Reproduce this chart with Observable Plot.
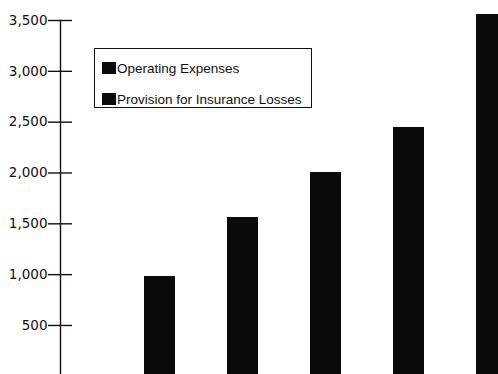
<!DOCTYPE html>
<html>
<head>
<meta charset="utf-8">
<script src="https://cdn.jsdelivr.net/npm/d3@7"></script>
<script src="https://cdn.jsdelivr.net/npm/@observablehq/plot@0.6"></script>
<style>
  html, body { margin: 0; padding: 0; background: #fff; overflow: hidden; }
  #wrap { position: relative; width: 498px; height: 374px; }
  #legend { position: absolute; left: 94px; top: 48px; width: 218px; height: 60px;
    border: 1px solid #111; box-sizing: border-box; background: #fff;
    font-family: "Liberation Sans", Arial, sans-serif; font-size: 13.5px; color: #111; }
  .item { position: absolute; left: 7px; height: 14px; line-height: 14px; white-space: nowrap; }
  .sw { display: inline-block; width: 14px; height: 12px; background: #0a0a0a; vertical-align: -1px; margin-right: 1px; }
</style>
</head>
<body>
<div id="wrap"></div>
<script>
const categories = ["1", "2", "3", "4", "5"];
const provisionForLosses = [578, 1159, 1750, 2143, 3254];
const operatingExpenses = [404, 403, 255, 304, 305];
const seriesNames = ["Operating Expenses", "Provision for Insurance Losses"];
const yTicks = [500, 1000, 1500, 2000, 2500, 3000, 3500];

const data = [];
categories.forEach((c, i) => {
  data.push({cat: c, series: seriesNames[1], value: provisionForLosses[i]});
  data.push({cat: c, series: seriesNames[0], value: operatingExpenses[i]});
});

const W = 498, H = 374, ML = 60;
const step = 83.9, bw = 31;
const x0 = 142.5;
const chart = Plot.plot({
  width: W,
  height: H,
  marginLeft: ML,
  marginRight: 0,
  marginTop: 20,
  marginBottom: 0,
  style: {background: "#fff", color: "#111", overflow: "visible"},
  x: {domain: categories, range: [x0, x0 + step * (categories.length - 1) + bw], paddingInner: 1 - bw / step, paddingOuter: 0, axis: null},
  y: {domain: [0, 3500], range: [375.8, 20], axis: null},
  marks: [
    Plot.barY(data, Plot.stackY({x: "cat", y: "value", z: "series", fill: "#0a0a0a", shapeRendering: "crispEdges"})),
    Plot.frame({anchor: "left", stroke: "#111", strokeWidth: 1.4}),
    Plot.tickY(yTicks, {y: d => d, insetLeft: -12, insetRight: W - ML - 12, stroke: "#111", strokeWidth: 1.4}),
    Plot.axisY({ticks: yTicks, tickFormat: d3.format(","), tickSize: 0, tickPadding: 13, label: null,
      fill: "#111", fontSize: 13.5, fontFamily: "DejaVu Sans, sans-serif"})
  ]
});
const wrap = document.getElementById("wrap");
wrap.appendChild(chart);

const legend = document.createElement("div");
legend.id = "legend";
[0, 1].forEach(i => {
  const it = document.createElement("div");
  it.className = "item";
  it.style.top = (i === 0 ? 13 : 44) + "px";
  const sw = document.createElement("span");
  sw.className = "sw";
  it.appendChild(sw);
  it.appendChild(document.createTextNode(seriesNames[i]));
  legend.appendChild(it);
});
wrap.appendChild(legend);
</script>
</body>
</html>
